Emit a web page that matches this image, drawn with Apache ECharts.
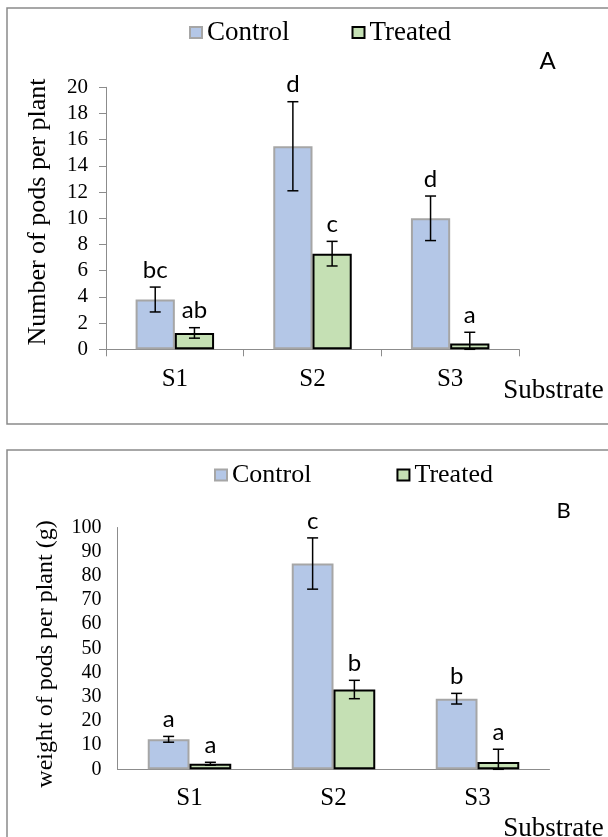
<!DOCTYPE html>
<html>
<head>
<meta charset="utf-8">
<script src="https://cdn.jsdelivr.net/npm/echarts@6/dist/echarts.min.js"></script>
<style>
html,body{margin:0;padding:0;background:#fff;}
#chart{width:608px;height:837px;}
</style>
</head>
<body>
<div id="chart"></div>
<script>
// ---- data ----
const categories = ['S1', 'S2', 'S3'];
const seriesNames = ['Control', 'Treated'];

// Panel A: number of pods per plant
const podsControl = [3.8, 15.5, 10.0];
const podsControlErr = [0.95, 3.4, 1.7];
const podsTreated = [1.25, 7.3, 0.45];
const podsTreatedErr = [0.4, 0.94, 0.85];
const podsControlLetters = ['bc', 'd', 'd'];
const podsTreatedLetters = ['ab', 'c', 'a'];
const podsTicks = [0, 2, 4, 6, 8, 10, 12, 14, 16, 18, 20];

// Panel B: weight of pods per plant (g)
const weightControl = [12.4, 85.1, 29.2];
const weightControlErr = [1.2, 10.6, 2.2];
const weightTreated = [2.3, 33.0, 3.0];
const weightTreatedErr = [0.6, 3.8, 5.3];
const weightControlLetters = ['a', 'c', 'b'];
const weightTreatedLetters = ['a', 'b', 'a'];
const weightTicks = [0, 10, 20, 30, 40, 50, 60, 70, 80, 90, 100];

const titleA = 'Number of pods per plant';
const titleB = 'weight of pods per plant (g)';
const xTitle = 'Substrate';

// ---- styles ----
const SERIF = '"Liberation Serif", "Times New Roman", serif';
const SANS = 'Lato, "Open Sans", sans-serif';
const AXIS_GRAY = '#8c8c8c';
const controlStyle = { color: '#b4c7e7', borderColor: '#a6a6a6', borderWidth: 2 };
const treatedStyle = { color: '#c5e0b4', borderColor: '#000000', borderWidth: 2 };

function errSeries(name, values, errs, letters, side, gapFrac, xIdx, yIdx) {
  return {
    type: 'custom',
    name: name,
    xAxisIndex: xIdx,
    yAxisIndex: yIdx,
    z: 10,
    silent: true,
    data: values.map((v, i) => [i, v, errs[i]]),
    renderItem: function (params, api) {
      const cat = api.value(0), v = api.value(1), e = api.value(2);
      const band = api.size([1, 0])[0];
      const off = band * (1 - gapFrac) / 4 * side;
      const c = api.coord([cat, v]);
      const x = c[0] + off;
      const yTop = api.coord([cat, v + e])[1];
      const yBot = api.coord([cat, Math.max(0, v - e)])[1];
      const cap = 5.5;
      const ls = { stroke: '#000', lineWidth: 1.5 };
      return {
        type: 'group',
        children: [
          { type: 'line', shape: { x1: x, y1: yTop, x2: x, y2: yBot }, style: ls },
          { type: 'line', shape: { x1: x - cap, y1: yTop, x2: x + cap, y2: yTop }, style: ls },
          { type: 'line', shape: { x1: x - cap, y1: yBot, x2: x + cap, y2: yBot }, style: ls },
          { type: 'text', x: x, y: yTop - 5,
            style: { text: letters[params.dataIndex], font: '24px ' + SANS, fill: '#000',
                     align: 'center', verticalAlign: 'bottom' } }
        ]
      };
    }
  };
}

const gapA = 0.43, gapB = 0.42;

function valueAxis(ticks, gridIndex, opts) {
  return Object.assign({
    type: 'value', gridIndex: gridIndex,
    min: ticks[0], max: ticks[ticks.length - 1], interval: ticks[1] - ticks[0],
    axisLine: { show: true, lineStyle: { color: AXIS_GRAY, width: 1 } },
    splitLine: { show: false },
    axisLabel: { color: '#000', fontFamily: SERIF }
  }, opts);
}

const chart = echarts.init(document.getElementById('chart'), null, { renderer: 'canvas' });
chart.setOption({
  animation: false,
  backgroundColor: '#fff',
  legend: [
    { data: seriesNames, left: 189, top: 19, padding: 0, icon: 'rect', itemWidth: 12, itemHeight: 11, itemGap: 62,
      textStyle: { fontFamily: SERIF, fontSize: 27, color: '#000' } },
    { data: seriesNames, left: 214, top: 462, padding: 0, icon: 'rect', itemWidth: 12, itemHeight: 11, itemGap: 85,
      textStyle: { fontFamily: SERIF, fontSize: 26, color: '#000' } }
  ],
  grid: [
    { left: 106, top: 87.3, width: 413, height: 262, outerBoundsMode: 'none', containLabel: false },
    { left: 117.5, top: 527.5, width: 432, height: 241.8, outerBoundsMode: 'none', containLabel: false }
  ],
  xAxis: [
    { type: 'category', gridIndex: 0, data: categories,
      axisLine: { lineStyle: { color: AXIS_GRAY, width: 1 } },
      axisTick: { show: true, length: 7, lineStyle: { color: AXIS_GRAY } },
      axisLabel: { color: '#000', fontFamily: SERIF, fontSize: 25, margin: 18 } },
    { type: 'category', gridIndex: 1, data: categories,
      axisLine: { lineStyle: { color: AXIS_GRAY, width: 1 } },
      axisTick: { show: false },
      axisLabel: { color: '#000', fontFamily: SERIF, fontSize: 25, margin: 17 } }
  ],
  yAxis: [
    valueAxis(podsTicks, 0, {
      axisTick: { show: true, length: 7, lineStyle: { color: AXIS_GRAY } },
      axisLabel: { color: '#000', fontFamily: SERIF, fontSize: 21, margin: 18 } }),
    valueAxis(weightTicks, 1, {
      axisTick: { show: false },
      axisLabel: { color: '#000', fontFamily: SERIF, fontSize: 20, margin: 16 } })
  ],
  series: [
    { type: 'bar', name: 'Control', xAxisIndex: 0, yAxisIndex: 0, data: podsControl,
      barGap: '0%', barCategoryGap: (gapA * 100) + '%', itemStyle: controlStyle },
    { type: 'bar', name: 'Treated', xAxisIndex: 0, yAxisIndex: 0, data: podsTreated,
      barGap: '0%', barCategoryGap: (gapA * 100) + '%', itemStyle: treatedStyle },
    { type: 'bar', name: 'Control', xAxisIndex: 1, yAxisIndex: 1, data: weightControl,
      barGap: '0%', barCategoryGap: (gapB * 100) + '%', itemStyle: controlStyle },
    { type: 'bar', name: 'Treated', xAxisIndex: 1, yAxisIndex: 1, data: weightTreated,
      barGap: '0%', barCategoryGap: (gapB * 100) + '%', itemStyle: treatedStyle },
    errSeries('errA1', podsControl, podsControlErr, podsControlLetters, -1, gapA, 0, 0),
    errSeries('errA2', podsTreated, podsTreatedErr, podsTreatedLetters, 1, gapA, 0, 0),
    errSeries('errB1', weightControl, weightControlErr, weightControlLetters, -1, gapB, 1, 1),
    errSeries('errB2', weightTreated, weightTreatedErr, weightTreatedLetters, 1, gapB, 1, 1)
  ],
  graphic: [
    { type: 'rect', shape: { x: 7, y: 8, width: 640, height: 416 }, z: -1,
      style: { fill: 'none', stroke: '#8a8a8a', lineWidth: 1.5 } },
    { type: 'rect', shape: { x: 7, y: 450, width: 640, height: 420 }, z: -1,
      style: { fill: 'none', stroke: '#8a8a8a', lineWidth: 1.5 } },
    { type: 'text', x: 38.5, y: 212, rotation: Math.PI / 2,
      style: { text: titleA, font: '26px ' + SERIF, fill: '#000', align: 'center', verticalAlign: 'middle' } },
    { type: 'text', x: 46, y: 654, rotation: Math.PI / 2,
      style: { text: titleB, font: '24px ' + SERIF, fill: '#000', align: 'center', verticalAlign: 'middle' } },
    { type: 'text', x: 553.5, y: 391,
      style: { text: xTitle, font: '27px ' + SERIF, fill: '#000', align: 'center', verticalAlign: 'middle' } },
    { type: 'text', x: 553.5, y: 829,
      style: { text: xTitle, font: '27px ' + SERIF, fill: '#000', align: 'center', verticalAlign: 'middle' } },
    { type: 'text', x: 547.5, y: 61,
      style: { text: 'A', font: '24px ' + SANS, fill: '#000', align: 'center', verticalAlign: 'middle' } },
    { type: 'text', x: 563.5, y: 511,
      style: { text: 'B', font: '22px ' + SANS, fill: '#000', align: 'center', verticalAlign: 'middle' } }
  ]
});
</script>
</body>
</html>
